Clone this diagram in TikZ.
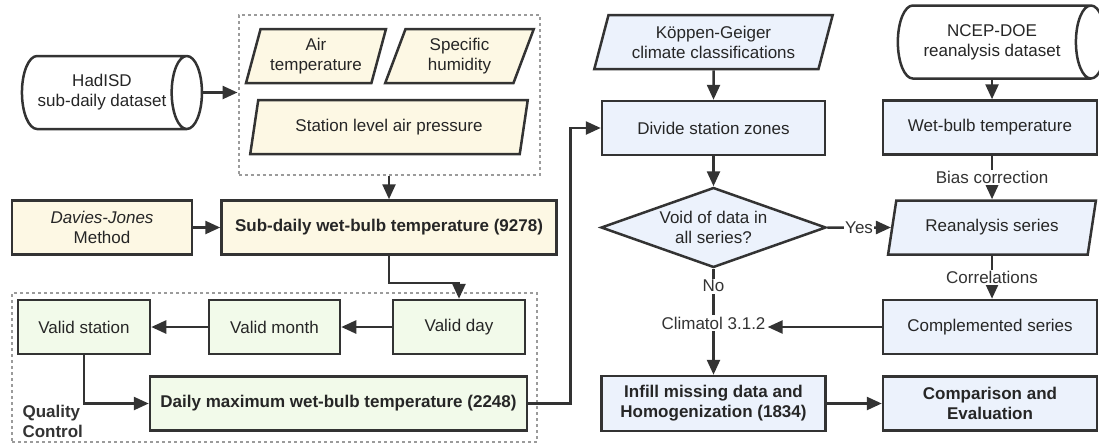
\documentclass[tikz,border=0pt]{standalone}
\usepackage{fontspec}
\setmainfont{Liberation Sans}
\usetikzlibrary{shapes.geometric, arrows.meta, positioning, calc}
\definecolor{edgegray}{RGB}{51,51,51}
\definecolor{inputcream}{RGB}{253,248,228}
\definecolor{qcgreen}{RGB}{242,250,234}
\definecolor{zoneblue}{RGB}{236,242,252}
\definecolor{groupgray}{RGB}{155,155,155}
\newcommand{\flowfont}{\fontsize{17}{20}\selectfont}

\begin{document}
\begin{tikzpicture}[x=1pt, y=1pt,
    every node/.style={font=\flowfont, text=black!85, align=center},
    box/.style={rectangle, draw=edgegray, line width=2.5pt, minimum height=54pt, inner sep=2pt},
    strong/.style={font=\flowfont\bfseries},
    inbox/.style={box, fill=inputcream},
    qcbox/.style={box, fill=qcgreen},
    bluebox/.style={box, fill=zoneblue},
    slanted/.style={trapezium, trapezium left angle=72, trapezium right angle=108, trapezium stretches=true, draw=edgegray, line width=2.5pt, minimum height=54pt, inner sep=1pt},
    dataset/.style={cylinder, draw=edgegray, fill=white, line width=2.5pt, aspect=0.8, minimum width=73pt, inner sep=1pt},
    group/.style={rectangle, draw=groupgray, line width=2pt, dash pattern=on 3pt off 3pt},
    lbl/.style={fill=white, inner sep=1.5pt, text=black!80},
    arrow/.style={-{Triangle[length=15pt, width=13pt]}, line width=2.5pt, draw=edgegray}
]
    \useasboundingbox (0,0) rectangle (1099,-445);

    \node[group, minimum width=301pt, minimum height=160pt] (inputs) at (389,-95) {};
    \node[group, minimum width=525pt, minimum height=149pt] (qc) at (274.5,-367.5) {};

    \node[dataset, minimum height=180pt] (hadisd) at (102,-92.5) {HadISD\\sub-daily dataset};
    \node[slanted, fill=inputcream, minimum width=140pt] (airtemp) at (316,-56) {Air\\temperature};
    \node[slanted, fill=inputcream, minimum width=149pt] (humidity) at (459.5,-56) {Specific\\humidity};
    \node[slanted, fill=inputcream, minimum width=278pt] (pressure) at (389,-127) {Station level air pressure};
    \node[inbox, minimum width=180pt] (davies) at (102,-227.5) {\textit{Davies-Jones}\\Method};
    \node[inbox, strong, minimum width=335pt] (subdaily) at (389,-227.5) {Sub-daily wet-bulb temperature (9278)};

    \node[qcbox, minimum width=132pt] (validstation) at (84,-327) {Valid station};
    \node[qcbox, minimum width=131pt] (validmonth) at (274.5,-327) {Valid month};
    \node[qcbox, minimum width=132pt] (validday) at (459,-327) {Valid day};
    \node[qcbox, strong, minimum width=377pt] (dailymax) at (338.5,-403.5) {Daily maximum wet-bulb temperature (2248)};
    \node[strong, align=left, anchor=west, text=black!80] (qclabel) at (19,-421.5) {Quality\\Control};

    \node[slanted, fill=zoneblue, minimum width=239pt] (koppen) at (713.5,-42) {K\"oppen-Geiger\\climate classifications};
    \node[bluebox, minimum width=223pt] (divide) at (713.5,-128) {Divide station zones};
    \node[diamond, draw=edgegray, fill=zoneblue, line width=2.5pt, aspect=2.8, inner sep=0pt, minimum width=225pt, minimum height=80pt] (void) at (713.5,-227.5) {Void of data in\\all series?};
    \node[text=black!80, inner sep=2pt] (climatol) at (713.5,-323) {Climatol 3.1.2};
    \node[bluebox, strong, minimum width=224pt, minimum height=55pt] (infill) at (713.5,-403.5) {Infill missing data and\\Homogenization (1834)};

    \node[dataset, minimum height=208pt] (ncep) at (992,-42) {NCEP-DOE\\reanalysis dataset};
    \node[bluebox, minimum width=214pt] (wetbulb) at (990,-127.5) {Wet-bulb temperature};
    \node[slanted, fill=zoneblue, minimum width=208pt] (reanalysis) at (992,-227.5) {Reanalysis series};
    \node[bluebox, minimum width=214pt] (complemented) at (990,-327) {Complemented series};
    \node[bluebox, strong, minimum width=214pt] (comparison) at (990,-403.5) {Comparison and\\Evaluation};

    \draw[arrow] (hadisd.east) -- (hadisd.east -| inputs.west);
    \draw[arrow] (inputs.south) -- (subdaily.north);
    \draw[arrow] (davies) -- (subdaily);
    \draw[arrow] (subdaily.south) -- ++(0,-27) -| (validday.north);
    \draw[arrow] (validday) -- (validmonth);
    \draw[arrow] (validmonth) -- (validstation);
    \draw[arrow] (validstation.south) |- (dailymax.west);
    \draw[arrow] (dailymax.east) -- ++(42,0) |- (divide.west);
    \draw[arrow] (koppen) -- (divide);
    \draw[arrow] (divide) -- (void);
    \draw[arrow] (void) -- node[lbl] {Yes} (reanalysis);
    \draw[arrow] (ncep.south) -- (ncep.south |- wetbulb.north);
    \draw[arrow] (wetbulb.south -| ncep.south) -- node[lbl] {Bias correction} (ncep.south |- reanalysis.north);
    \draw[arrow] (reanalysis.south -| ncep.south) -- node[lbl] {Correlations} (ncep.south |- complemented.north);
    \draw[line width=2.5pt, draw=edgegray] (void.south) -- node[lbl, pos=0.38] {No} (climatol.north);
    \draw[arrow] (climatol) -- (infill);
    \draw[arrow] (complemented.west) -- (complemented.west -| climatol.east);
    \draw[arrow] (infill) -- (comparison);
\end{tikzpicture}
\end{document}
